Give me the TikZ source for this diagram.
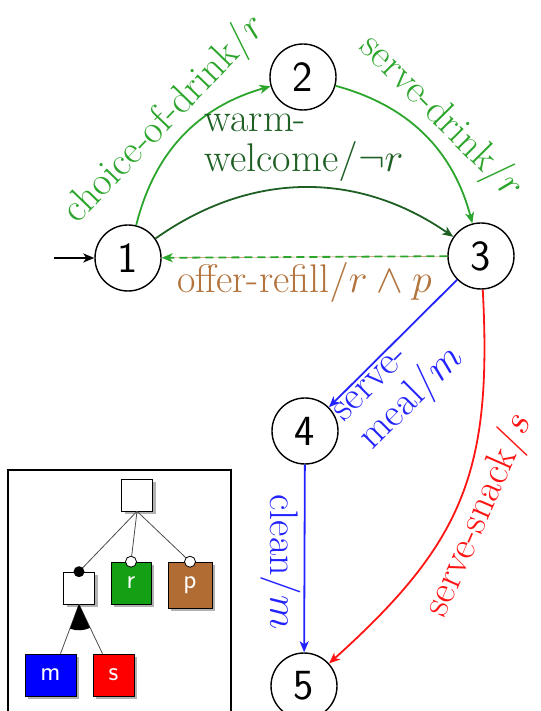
\RequirePackage{fix-cm}
\documentclass[tikz,border=0pt]{standalone}
\usetikzlibrary{arrows.meta,automata,shadows,positioning}

\definecolor{drinkgreen}{RGB}{44,165,44}
\definecolor{welcomegreen}{RGB}{30,95,35}
\definecolor{refillbrown}{RGB}{178,115,60}
\definecolor{mealblue}{RGB}{35,35,255}
\definecolor{snackred}{RGB}{255,20,20}
\definecolor{rgreen}{RGB}{20,160,20}
\definecolor{pbrown}{RGB}{176,108,50}

\tikzset{
  lbl/.style={font=\fontsize{40}{40}\selectfont},
  feat/.style={draw, line width=0.6pt, inner sep=0pt, text=white,
    font=\sffamily\fontsize{27}{28}\selectfont,
    drop shadow={shadow xshift=3pt, shadow yshift=-3pt, fill=black!30, opacity=1}},
  tie/.style={draw=black!70, line width=0.8pt}
}

\begin{document}
\begin{tikzpicture}[x=1pt, y=1pt, >={Stealth[length=11pt, width=9pt, inset=3pt]},
  every state/.style={circle, draw, line width=1.4pt, minimum size=66pt, inner sep=0pt,
    font=\sffamily\fontsize{43}{44}\selectfont},
  initial text={}, initial distance=40pt,
  every initial by arrow/.style={line width=1.8pt},
  every edge/.style={draw, line width=1.8pt}]
\useasboundingbox (0,0) rectangle (540,711);

% the automaton
\node[state, initial] (S1) at (128,453) {1};
\node[state] (S2) at (303,634) {2};
\node[state] (S3) at (481,455) {3};
\node[state] (S4) at (305,280) {4};
\node[state] (S5) at (304,25) {5};

\path[->] (S1) edge[color=drinkgreen, bend left=30] node[lbl, above, sloped] {choice-of-drink$/r$} (S2)
          (S2) edge[color=drinkgreen, bend left=30] node[lbl, above, sloped] {serve-drink$/r$} (S3)
          (S1) edge[color=welcomegreen, bend left=35] node[lbl, above=2pt, align=left] {warm-\\welcome$/\neg r$} (S3)
          (S3) edge[draw=drinkgreen, dash pattern=on 8pt off 5pt,
                    preaction={draw=refillbrown, solid, -}]
               node[lbl, below=1pt, text=refillbrown] {offer-refill$/r\wedge p$} (S1)
          (S3) edge[color=mealblue] node[lbl, below, sloped, align=left, pos=0.64] {serve-\\meal$/m$} (S4)
          (S4) edge[color=mealblue] node[lbl, rotate=-90, anchor=north, pos=0.52] {clean$/m$} (S5)
          (S3) edge[color=snackred, out=-87, in=42, looseness=1.15]
               node[lbl, below, sloped, pos=0.52] {serve-snack$/s$} (S5);

% the feature model
\draw[line width=2.5pt] (8,-10) rectangle (231,241);

\node[feat, fill=white, minimum width=31pt, minimum height=32pt] (root) at (137,216) {};
\node[feat, fill=white, minimum width=31pt, minimum height=32pt] (food) at (79,123) {};
\node[feat, fill=rgreen, minimum width=40pt, minimum height=42pt] (r) at (131,128) {r};
\node[feat, fill=pbrown, minimum width=44pt, minimum height=46pt] (p) at (190,126) {p};
\node[feat, fill=blue, minimum width=51pt, minimum height=42pt] (m) at (50.5,36) {m};
\node[feat, fill=red, minimum width=41pt, minimum height=42pt] (s) at (113.5,36) {s};

\draw[tie] (root.south) -- (food.north);
\draw[tie] (root.south) -- (r.north);
\draw[tie] (root.south) -- (p.north);
\fill (food.north) circle (5.5pt);
\draw[line width=0.8pt, fill=white] (r.north) circle (5.5pt);
\draw[line width=0.8pt, fill=white] (p.north) circle (5.5pt);

\draw[tie] (food.south) -- ([xshift=10pt]m.north);
\draw[tie] (food.south) -- ([xshift=-11pt]s.north);
\fill (food.south) -- +(249.9:26) arc[start angle=249.9, end angle=294.9, radius=26] -- cycle;
\end{tikzpicture}
\end{document}
